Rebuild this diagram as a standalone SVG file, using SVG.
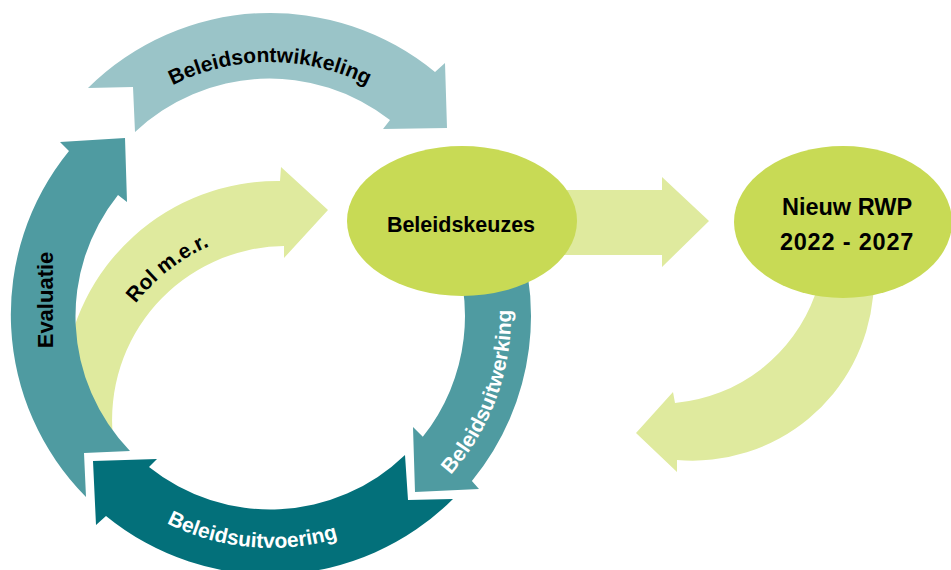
<svg xmlns="http://www.w3.org/2000/svg" width="951" height="570" viewBox="0 0 951 570">
<style>
  text { font-family: "Liberation Sans", Arial, sans-serif; font-weight: bold; }
  .dark { fill: #000000; }
  .light { fill: #ffffff; }
  .lbl { font-size: 21px; }
  .node { fill: #C8DA55; }
  .pale { fill: #DFEA9E; }
  .teal1 { fill: #9AC4C8; }
  .teal2 { fill: #4F9BA1; }
  .teal3 { fill: #03707A; }
</style>
<defs>
  <path id="p-ontw" d="M83.8,169.5 A215,215 0 0 1 456.2,169.5"/>
  <path id="p-uitv" d="M107,480 A232,232 0 0 0 404.1,506"/>
  <path id="p-uitw" d="M391,523.8 A240,240 0 0 0 496.5,233.9"/>
  <path id="p-rol" d="M97.4,396.8 A190,190 0 0 1 309.2,231.4"/>
</defs>
<rect width="951" height="570" fill="#ffffff"/>
<g id="connectors">
  <g id="rol-mer">
    <path class="pale" d="M280,181 L281,167 L328,210 L284,258 L284,246 A174,174 0 0 0 113,438 L64,376 A214,214 0 0 1 280,181 Z"/>
    <text class="dark lbl"><textPath href="#p-rol" startOffset="50%" text-anchor="middle">Rol m.e.r.</textPath></text>
  </g>
  <g id="evaluatie">
    <path class="teal2" d="M69,151 L60,142 L125,138 L127,202 L118,195 A194,194 0 0 0 130,451 L84,453 L86,497 A259,259 0 0 1 69,151 Z"/>
    <text class="dark" font-size="22" text-anchor="middle" transform="translate(53,300) rotate(-90)">Evaluatie</text>
  </g>
  <g id="beleidsontwikkeling">
    <path class="teal1" d="M88,88 A259,259 0 0 1 435,72 L445,63 L447,128 L383,129 L390,120 A196,196 0 0 0 135,132 L133,87 Z"/>
    <text class="dark lbl"><textPath href="#p-ontw" startOffset="50%" text-anchor="middle">Beleidsontwikkeling</textPath></text>
  </g>
  <g id="beleidsuitvoering">
    <path class="teal3" d="M149,467 L157,459 L93,461 L96,525 L106,516 A259,259 0 0 0 453,499 L408,500 L405,455 A194,194 0 0 1 149,467 Z"/>
    <text class="light lbl"><textPath href="#p-uitv" startOffset="50%" text-anchor="middle">Beleidsuitvoering</textPath></text>
  </g>
  <g id="beleidsuitwerking">
    <path class="teal2" d="M506.6,206 A260,260 0 0 1 471.9,481 L479,489 L415,492 L413,427 L422.8,436.8 A194,194 0 0 0 446.8,234 Z"/>
    <text class="light lbl"><textPath href="#p-uitw" startOffset="50%" text-anchor="middle">Beleidsuitwerking</textPath></text>
  </g>
  <g id="keuzes-to-rwp">
    <path class="pale" d="M560,190 L662,190 L662,177 L709,221 L662,267 L662,255 L560,255 Z"/>
  </g>
  <g id="rwp-return">
    <path class="pale" d="M818,260 L878,260 L873,297 A181.3,181.3 0 0 1 677,460 L677,472 L636,433 L673,392 L675,403 A164.5,164.5 0 0 0 815,295 Z"/>
  </g>
</g>
<g id="node-beleidskeuzes">
  <ellipse class="node" cx="462" cy="221" rx="115" ry="75"/>
  <text class="dark" x="461" y="232" font-size="21.5" text-anchor="middle">Beleidskeuzes</text>
</g>
<g id="node-nieuw-rwp">
  <ellipse class="node" cx="843" cy="222" rx="109" ry="76"/>
  <text class="dark" x="847" y="215" font-size="23.5" text-anchor="middle">Nieuw RWP</text>
  <text class="dark" x="847" y="250" font-size="23.5" letter-spacing="0.8" text-anchor="middle">2022 - 2027</text>
</g>
</svg>
